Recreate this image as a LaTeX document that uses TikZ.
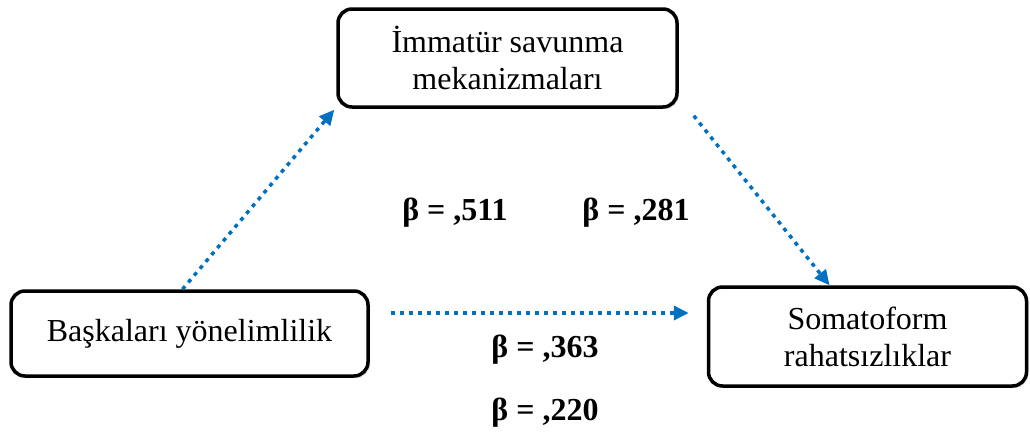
\documentclass[tikz,border=0pt]{standalone}
\usepackage{fontspec}
\setmainfont{Liberation Serif}
\usepackage{tikz}
\usetikzlibrary{arrows.meta,shadows}
\definecolor{pathblue}{HTML}{0070C0}

\begin{document}
\begin{tikzpicture}[x=1pt,y=-1pt,font=\fontsize{32}{37}\selectfont]
        \tikzstyle{b}=[draw,line width=3.5pt,rounded corners=14pt,align=center,fill=white,inner sep=0pt,
          drop shadow={shadow xshift=2pt,shadow yshift=-2pt,opacity=0.25}]
        \tikzstyle{p}=[pathblue,line width=3.5pt,dash pattern=on 4pt off 5pt,-{Triangle[length=15pt,width=14pt]}]
        \tikzstyle{lbl}=[anchor=base,inner sep=0pt,font=\fontsize{32}{37}\selectfont\bfseries]
        \useasboundingbox (0,0) rectangle (1030,439);
        \node[b,minimum width=339pt,minimum height=98pt] (imm) at (507.5,58) {İmmatür savunma\\mekanizmaları};
        \node[b,minimum width=357pt,minimum height=85pt] (bas) at (189.5,333.5) {Başkaları yönelimlilik};
        \node[b,minimum width=318pt,minimum height=99pt] (som) at (867.5,336.5) {Somatoform\\rahatsızlıklar};
        % dotted paths between the three boxes
        \coordinate (hs) at ([xshift=21pt,yshift=20.5pt]bas.east);
        \draw[p] ([xshift=-7pt]bas.north) -- ([xshift=-2pt,yshift=-1pt]imm.south west);
        \draw[p] ([xshift=15pt,yshift=-7pt]imm.south east) -- ([xshift=-38pt]som.north);
        \draw[p] (hs) -- ([xshift=-18pt]som.west |- hs);
        \node[lbl] (b1) at (455,220) {β = ,511};
        \node[lbl] (b2) at (636,220) {β = ,281};
        \node[lbl] (b3) at (545,357) {β = ,363};
        \node[lbl] (b4) at (545,420) {β = ,220};
      \end{tikzpicture}
\end{document}
